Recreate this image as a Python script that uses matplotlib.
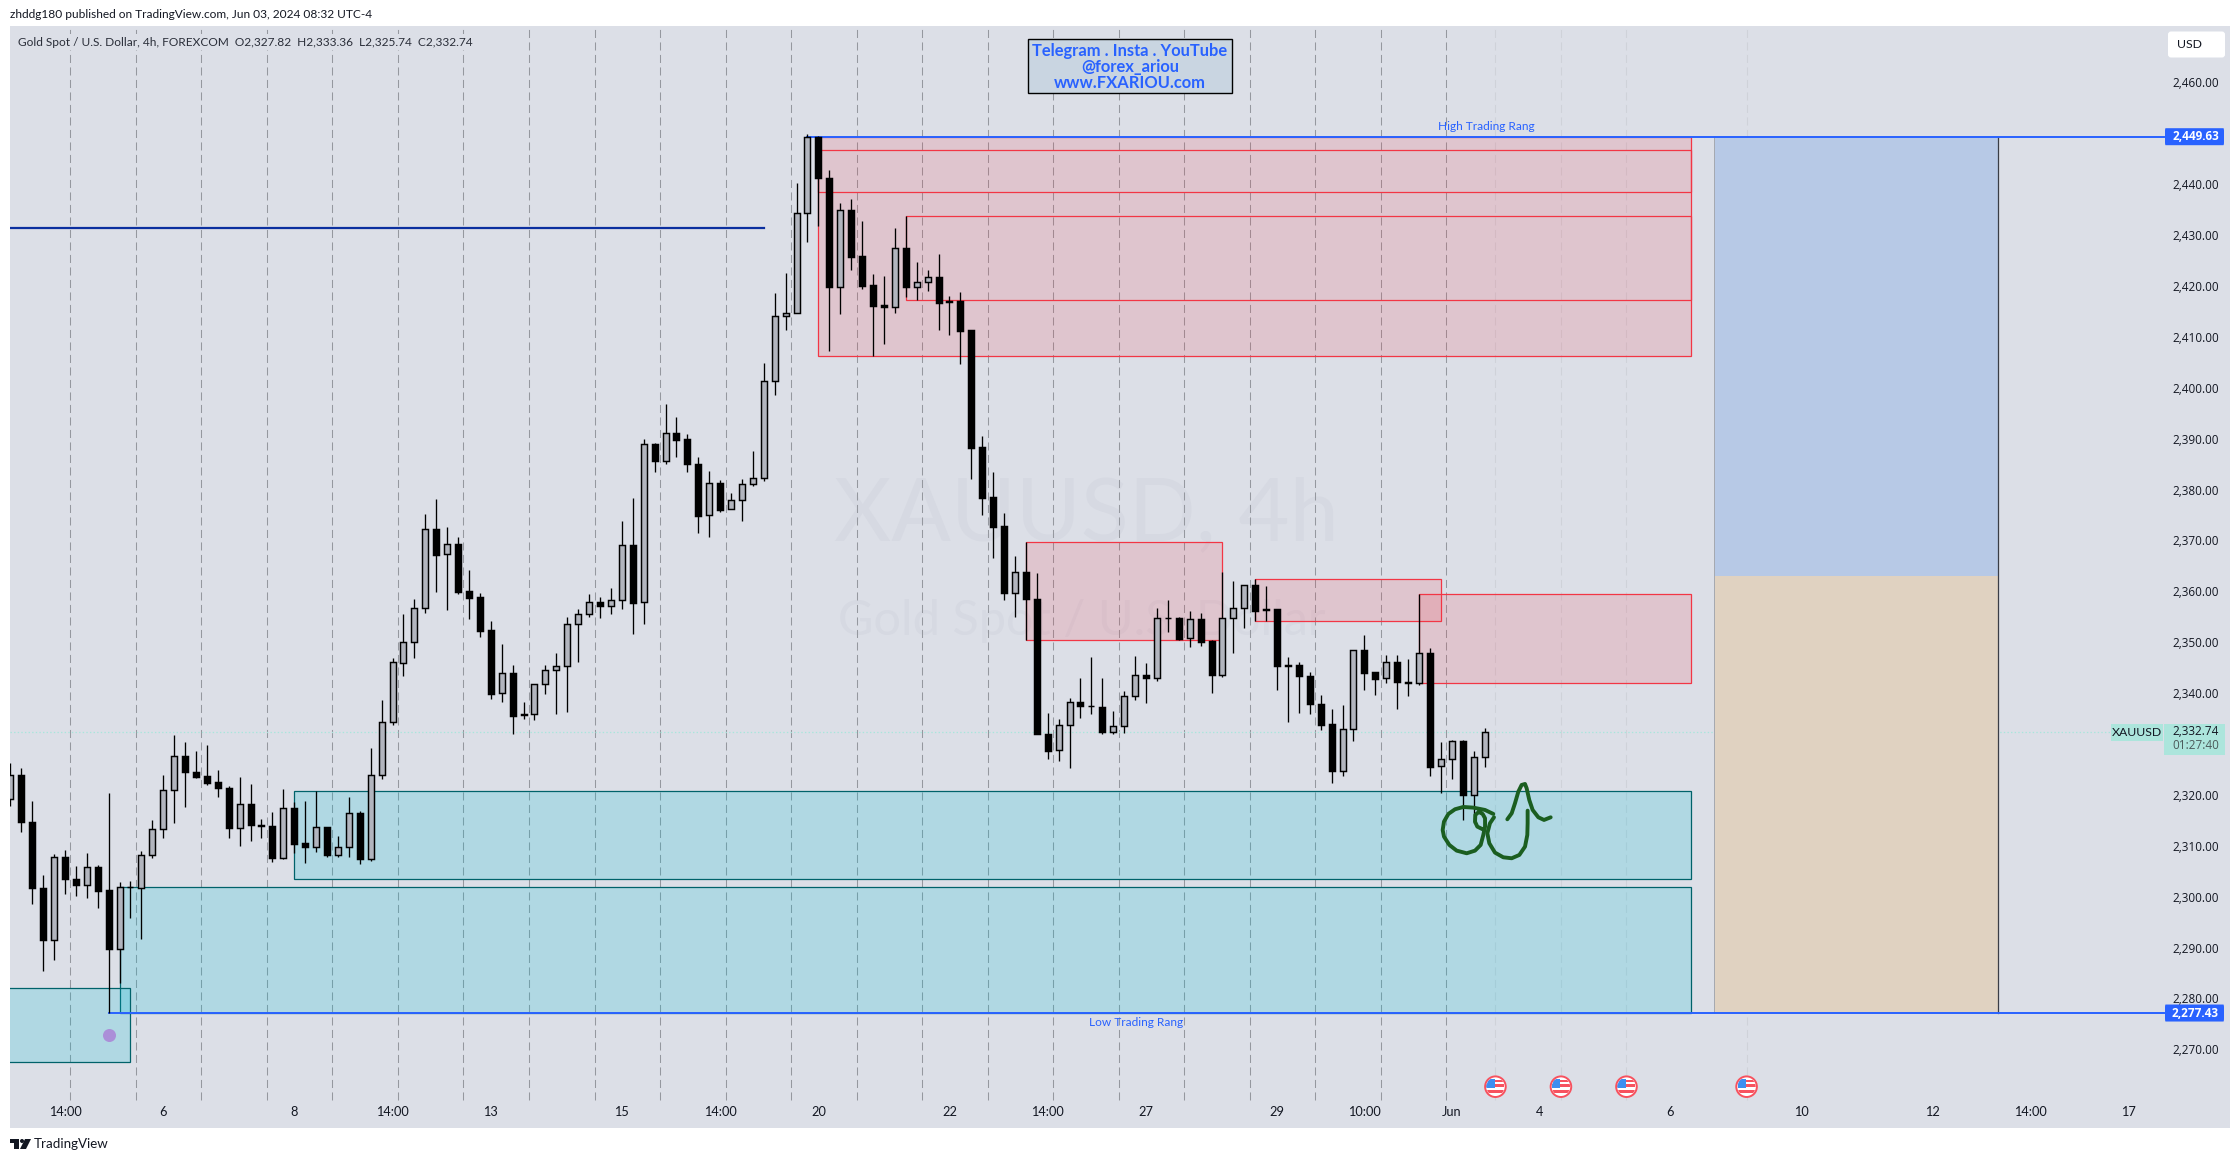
import matplotlib
matplotlib.use("Agg")
import matplotlib.pyplot as plt
from matplotlib.patches import Rectangle, FancyBboxPatch, Circle, Polygon
from matplotlib.transforms import blended_transform_factory, ScaledTranslation

plt.rcParams['font.family'] = ['Lato', 'DejaVu Sans']
plt.rcParams['lines.scale_dashes'] = False
PRICE_FONT = ['Open Sans', 'DejaVu Sans']

# ---------- data ----------
opens = [2319.4,2324.2,2314.9,2302.0,2291.8,2308.1,2303.7,2302.5,2306.1,2301.6,
2290.1,2302.1,2302.0,2308.5,2313.6,2321.2,2327.9,2324.7,2324.0,2322.8,
2321.6,2313.7,2318.5,2314.3,2314.1,2307.8,2317.7,2310.8,2310.0,2314.0,
2308.5,2310.0,2316.7,2307.7,2324.3,2334.7,2346.3,2350.3,2357.1,2372.5,
2367.6,2369.5,2360.3,2359.1,2352.6,2340.3,2344.2,2336.2,2336.1,2342.0,
2344.8,2345.7,2353.8,2355.9,2358.1,2357.5,2358.5,2369.3,2358.1,2389.2,
2386.0,2391.5,2390.2,2385.4,2375.2,2381.5,2376.4,2378.2,2381.3,2382.5,
2401.7,2414.3,2414.9,2434.6,2449.5,2441.6,2420.1,2435.3,2426.1,2420.4,
2416.5,2416.2,2427.7,2420.0,2421.0,2422.0,2417.3,2417.3,2411.6,2388.6,
2378.8,2373.1,2359.9,2364.1,2358.8,2332.2,2329.1,2334.0,2338.5,2337.8,
2337.5,2332.6,2333.8,2339.7,2343.8,2343.2,2355.1,2355.0,2351.1,2354.8,
2350.6,2343.8,2355.0,2357.0,2361.5,2356.8,2356.8,2345.9,2345.8,2343.6,
2338.1,2334.2,2325.0,2333.2,2348.7,2344.4,2343.2,2346.5,2342.4,2342.2,
2348.1,2325.9,2327.3,2330.8,2320.2,2327.82]
highs = [2326.5,2325.5,2319.1,2304.5,2308.7,2309.5,2306.3,2308.8,2306.5,2320.7,
2303.2,2303.4,2309.2,2315.3,2324.2,2332.0,2330.7,2328.9,2330.1,2325.2,
2322.0,2323.8,2322.4,2315.5,2316.9,2321.4,2318.8,2319.1,2321.0,2314.0,
2312.2,2319.9,2317.1,2329.5,2338.9,2347.2,2355.8,2358.7,2375.4,2378.4,
2373.0,2370.9,2364.4,2359.9,2354.4,2349.9,2345.9,2338.5,2342.0,2345.9,
2348.1,2355.2,2356.9,2359.7,2359.1,2360.9,2374.2,2378.7,2390.3,2389.4,
2397.2,2394.5,2391.3,2386.6,2383.9,2382.1,2379.7,2382.3,2387.8,2405.1,
2419.0,2422.8,2440.5,2450.1,2449.8,2443.0,2436.7,2437.3,2433.0,2422.6,
2422.2,2431.6,2434.0,2425.1,2423.4,2426.5,2418.4,2419.2,2411.6,2390.8,
2383.7,2375.7,2367.2,2370.0,2363.9,2336.4,2335.2,2339.3,2343.2,2347.4,
2343.2,2336.8,2340.7,2347.6,2346.2,2357.0,2358.6,2355.2,2356.4,2356.0,
2350.7,2364.1,2362.3,2361.5,2362.7,2361.3,2356.8,2347.4,2346.4,2344.4,
2339.9,2337.1,2337.9,2348.7,2351.7,2344.5,2347.7,2347.7,2346.9,2359.7,
2349.1,2330.6,2331.0,2331.0,2328.9,2333.36]
lows = [2318.2,2313.1,2298.9,2285.6,2287.8,2300.9,2300.5,2300.1,2298.0,2277.43,
2283.3,2296.2,2291.9,2307.8,2311.9,2314.7,2318.0,2323.7,2322.3,2319.8,
2311.9,2310.2,2311.3,2311.9,2307.2,2307.6,2308.8,2307.0,2309.1,2308.0,
2308.0,2308.0,2306.8,2307.4,2323.5,2334.1,2343.7,2347.2,2356.1,2360.2,
2356.7,2359.8,2354.9,2351.4,2339.2,2338.6,2332.3,2335.3,2335.1,2340.2,
2336.2,2336.6,2346.5,2355.3,2355.1,2355.9,2356.9,2352.0,2353.9,2383.8,
2385.4,2386.7,2383.8,2371.8,2371.0,2375.9,2376.4,2374.2,2381.0,2382.0,
2398.9,2411.7,2414.9,2429.0,2432.1,2407.6,2414.8,2423.5,2419.8,2406.5,
2408.8,2415.0,2418.2,2417.5,2419.3,2411.7,2410.7,2405.0,2382.4,2375.2,
2366.9,2358.5,2355.2,2350.7,2332.2,2327.3,2326.9,2325.5,2335.5,2336.1,
2332.2,2332.2,2332.4,2338.9,2338.3,2342.6,2352.4,2350.8,2349.3,2349.6,
2340.4,2343.4,2348.1,2353.0,2354.4,2354.5,2341.0,2334.7,2336.3,2336.1,
2333.0,2322.7,2324.0,2330.8,2341.0,2340.0,2342.2,2337.2,2339.8,2341.8,
2324.1,2320.7,2323.5,2315.4,2314.7,2325.74]
closes = [2324.2,2314.9,2301.9,2291.7,2308.1,2303.7,2302.5,2306.1,2301.5,2290.1,
2302.2,2302.2,2308.5,2313.6,2321.2,2327.9,2324.7,2323.9,2322.7,2321.6,
2313.7,2318.5,2314.3,2314.1,2307.8,2317.7,2310.7,2310.0,2314.0,2308.4,
2310.0,2316.7,2307.6,2324.3,2334.7,2346.4,2350.3,2357.1,2372.5,2367.5,
2369.5,2360.2,2359.0,2352.5,2340.2,2344.2,2335.8,2336.0,2342.0,2344.8,
2345.7,2353.8,2355.9,2358.1,2357.5,2358.5,2369.3,2358.0,2389.2,2385.9,
2391.5,2390.1,2385.4,2375.1,2381.5,2376.3,2378.2,2381.3,2382.5,2401.7,
2414.3,2414.9,2434.6,2449.5,2441.6,2420.1,2435.3,2426.0,2420.3,2416.4,
2416.2,2427.7,2420.0,2421.0,2422.0,2417.0,2417.1,2411.5,2388.5,2378.7,
2373.0,2359.9,2364.1,2358.7,2332.2,2329.0,2334.0,2338.5,2337.7,2337.7,
2332.6,2333.8,2339.7,2343.8,2343.2,2355.0,2355.0,2351.0,2354.8,2350.4,
2343.8,2355.0,2357.0,2361.5,2356.5,2356.6,2345.7,2345.7,2343.6,2338.1,
2334.1,2324.9,2333.2,2348.7,2344.3,2343.1,2346.5,2342.4,2342.2,2348.1,
2325.8,2327.3,2330.8,2320.2,2327.7,2332.74]

price_ticks = [2270,2280,2290,2300,2310,2320,2340,2350,2360,2370,2380,2390,
               2400,2410,2420,2430,2440,2460]
time_tick_bars = [5,14,26,35,44,56,65,74,86,95,104,116,124,132,140,152,164,176,185,194]
time_tick_labels = ['14:00','6','8','14:00','13','15','14:00','20','22','14:00','27','29',
                    '10:00','Jun','4','6','10','12','14:00','17']
past_grid_bars = [5.5,11.5,17.5,23.5,29.5,35.5,41.5,47.5,53.5,59.5,65.5,71.5,77.5,83.5,
                  89.5,95.5,101.5,107.5,113.5,119.5,125.5,131.5]
future_grid_bars = [136,142,148,159]
event_bars = [136,142,148,159]

# zones: start bar, end bar, bottom price, top price
red_fill_zones = [(74,153.9,2406.5,2449.5),(93,111,2350.7,2370.0),
                  (114,131,2354.4,2362.65),(129,153.9,2342.2,2359.7)]
red_outline_zones = [(74,153.9,2438.7,2447.1),(82,153.9,2417.5,2434.0)]
teal_zones = [(26,153.9,2303.8,2321.0),(10,153.9,2277.43,2302.2),(-3,11,2267.8,2282.3)]
range_high, range_low, range_mid = 2449.63, 2277.43, 2363.4
position_bars = (156,182)
old_level = 2431.6
old_level_end = 69
last_close = 2332.74
dot_bar, dot_price = 9, 2273.1

stroke1_bar = [135.81,135.05,133.98,133.06,132.30,131.69,131.29,131.17,131.29,131.78,132.45,133.37,
               134.13,134.65,134.89,135.05,135.05,134.83,134.47,134.16,134.13,134.34,134.83]
stroke1_price = [2316.55,2317.33,2317.79,2317.92,2317.47,2316.55,2315.04,2313.4,2312.1,2310.46,2309.34,2308.82,
                 2309.34,2310.46,2312.42,2314.06,2315.7,2316.55,2316.94,2316.35,2315.04,2314.06,2313.54]
stroke2_bar = [135.87,135.5,135.26,135.44,135.96,136.72,137.49,138.19,138.71,138.92,138.95,138.95]
stroke2_price = [2315.9,2314.72,2312.75,2310.79,2308.95,2308.03,2307.84,2308.49,2310.13,2312.42,2314.72,2317.2]
stroke3_bar = [137.09,137.49,137.79,138.1,138.4,138.71,138.86,139.1,139.41,139.93,140.45,141.06]
stroke3_price = [2315.5,2316.68,2318.64,2320.94,2322.25,2322.44,2321.59,2319.3,2317.33,2315.89,2315.37,2315.89]

# ---------- layout (pixels) ----------
W, H = 2240, 1163
L, R, T, B = 10, 2230, 26, 1128
BAR0_X, BAR_W = 10.3, 10.92
Y_REF, Y_SCALE = 136.7, 5.089
BG = '#dcdfe7'
BLUE = '#2962ff'
TEXT = '#131722'

def x2bar(px): return (px - BAR0_X) / BAR_W
def y2price(py): return range_high - (py - Y_REF) / Y_SCALE

fig = plt.figure(figsize=(W/100, H/100), dpi=100, facecolor='white')
ax = fig.add_axes([L/W, 1-B/H, (R-L)/W, (B-T)/H], facecolor=BG, zorder=1)
ax.set_xlim(x2bar(L), x2bar(R))
ax.set_ylim(y2price(B), y2price(T))
for s in ax.spines.values():
    s.set_visible(False)

ov = fig.add_axes([0, 0, 1, 1], facecolor='none', zorder=2)
ov.set_xlim(0, W); ov.set_ylim(H, 0); ov.axis('off')

# ticks
ax.yaxis.tick_right()
ax.set_yticks(price_ticks)
ax.set_yticklabels([f'{v:,.2f}' for v in price_ticks], fontsize=8.5, color=TEXT, family=PRICE_FONT)
ax.tick_params(axis='y', length=0, pad=-11*0.72)
for lab in ax.get_yticklabels():
    lab.set_ha('right')
    lab.set_transform(lab.get_transform() + ScaledTranslation(0, 1.5/100, fig.dpi_scale_trans))
ax.set_xticks(time_tick_bars)
ax.set_xticklabels(time_tick_labels, fontsize=9.2, color=TEXT)
ax.tick_params(axis='x', length=0, pad=-22*0.72)

# watermark
ax.text(1086, 516, 'XAUUSD, 4h', transform=ov.transData, fontsize=63.5, color='#d6d9e2',
        ha='center', va='center', zorder=0.5)
ax.text(1082, 621, 'Gold Spot / U.S. Dollar', transform=ov.transData, fontsize=35, color='#d6d9e2',
        ha='center', va='center', zorder=0.5)

# grid
ytop, ybot = y2price(T), y2price(1100)
ax.vlines(past_grid_bars, ybot, ytop, color='#95989f', lw=0.75, linestyles=[(0, (5.8, 3.2))], zorder=1)
ax.vlines(future_grid_bars, ybot, ytop, color='#cfd2d9', lw=0.75, linestyles=[(0, (5.8, 3.2))], zorder=1)
ax.plot([x2bar(L), x2bar(2111)], [last_close, last_close], color='#a8e6dc', lw=0.9,
        linestyle=(0, (1.0, 1.6)), zorder=1.2)

# position tool
ax.add_patch(Rectangle((position_bars[0], range_mid), position_bars[1]-position_bars[0], range_high-range_mid,
                       facecolor='#b7c9e6', edgecolor='none', zorder=1.5))
ax.add_patch(Rectangle((position_bars[0], range_low), position_bars[1]-position_bars[0], range_mid-range_low,
                       facecolor='#e0d2c1', edgecolor='none', zorder=1.5))
ax.plot([position_bars[1]]*2, [range_low, range_high], color='#3a3d46', lw=0.9, zorder=1.6)
ax.plot([position_bars[0]]*2, [range_low, range_high], color='#a5a8b0', lw=0.7, zorder=1.6)

# zones
for x0, x1, y0, y1 in red_fill_zones:
    ax.add_patch(Rectangle((x0, y0), x1-x0, y1-y0, facecolor=(242/255, 54/255, 69/255, 0.15),
                           edgecolor='#f23645', lw=0.9, zorder=2))
for x0, x1, y0, y1 in red_outline_zones:
    ax.add_patch(Rectangle((x0, y0), x1-x0, y1-y0, facecolor='none', edgecolor='#f23645', lw=0.9, zorder=2))
for x0, x1, y0, y1 in teal_zones:
    ax.add_patch(Rectangle((x0, y0), x1-x0, y1-y0, facecolor=(0, 188/255, 212/255, 0.2),
                           edgecolor='#00626a', lw=0.9, zorder=2))

# levels
ax.plot([x2bar(L), old_level_end], [old_level, old_level], color='#0b2f9f', lw=1.6, zorder=2.2)
ax.plot([73, x2bar(2164)], [range_high, range_high], color=BLUE, lw=1.4, zorder=2.2)
ax.plot([9, x2bar(2164)], [range_low, range_low], color=BLUE, lw=1.4, zorder=2.2)

# candles
bars = list(range(len(closes)))
ax.vlines(bars, lows, highs, color='black', lw=0.95, zorder=3)
for i, (o, c) in enumerate(zip(opens, closes)):
    up = c >= o
    ax.bar(i, abs(c-o), bottom=min(o, c), width=6.0/BAR_W, color='#b2b5be' if up else 'black',
           edgecolor='black', linewidth=1.05, zorder=3.1)

# purple point
ax.scatter([dot_bar], [dot_price], s=88, color='#ab8fd8', linewidths=0, zorder=3.2)

# freehand drawing
for xs, ys in [(stroke1_bar, stroke1_price), (stroke2_bar, stroke2_price), (stroke3_bar, stroke3_price)]:
    ax.plot(xs, ys, color='#1b5e20', lw=2.8, solid_capstyle='round', solid_joinstyle='round', zorder=4)

# event flags
for b in event_bars:
    cx, cy, r = BAR0_X + b*BAR_W, 1086.7, 10.3
    clip = Circle((cx, cy), r-1.2, transform=ov.transData)
    ov.add_patch(Circle((cx, cy), r, facecolor='white', edgecolor='#f7525f', lw=1.4))
    for y0, h in [(-6.5, 2.2), (-2.5, 3.0), (3.0, 3.6)]:
        p = Rectangle((cx-9, cy+y0), 18, h, facecolor='#f7525f', edgecolor='none')
        ov.add_patch(p); p.set_clip_path(clip)
    p = Rectangle((cx-9, cy-8), 8.5, 9, facecolor='#3d8ef0', edgecolor='none')
    ov.add_patch(p); p.set_clip_path(clip)

# header / legend
ov.text(10, 15, 'zhddg180 published on TradingView.com, Jun 03, 2024 08:32 UTC-4', fontsize=8.6,
        color=TEXT, ha='left', va='center')
ov.text(18, 42, 'Gold Spot / U.S. Dollar, 4h, FOREXCOM  O2,327.82  H2,333.36  L2,325.74  C2,332.74',
        fontsize=8.6, color='#2a2e39', ha='left', va='center',
        bbox=dict(facecolor=BG, edgecolor='none', pad=1.5))

# promo box
ov.add_patch(Rectangle((1027.5, 39.3), 204.8, 54, facecolor='#c9d5e1', edgecolor='black', lw=1.0))
for y, t in zip([50.7, 67.3, 83.3], ['Telegram . Insta . YouTube', '@forex_ariou', 'www.FXARIOU.com']):
    ov.text(1130, y, t, fontsize=11.9, color=BLUE, ha='center', va='center', fontweight='bold')

ov.text(1486, 126.5, 'High Trading Rang', fontsize=8.6, color=BLUE, ha='center', va='center')
ov.text(1136, 1022, 'Low Trading Rang', fontsize=8.6, color=BLUE, ha='center', va='center')

# price scale tags
trans = blended_transform_factory(ov.transData, ax.transData)
for level in (range_high, range_low):
    ax_h = 8.5 / Y_SCALE
    ov.add_patch(FancyBboxPatch((2165, level-ax_h), 59, 2*ax_h, boxstyle='round,pad=0,rounding_size=0.6',
                                transform=trans, facecolor=BLUE, edgecolor='none', mutation_aspect=1))
    ov.text(2219, level, f'{level:,.2f}', transform=trans, fontsize=8.5, color='white',
            fontweight='bold', ha='right', va='center', family=PRICE_FONT)
ov.add_patch(Rectangle((2111, 724), 51.7, 16.7, facecolor='#ace5dc', edgecolor='none'))
ov.add_patch(Rectangle((2164, 724), 60.7, 30.7, facecolor='#ace5dc', edgecolor='none'))
ov.text(2137, 732.3, 'XAUUSD', fontsize=8.8, color=TEXT, ha='center', va='center')
ov.text(2219, 731.7, f'{last_close:,.2f}', fontsize=8.5, color=TEXT, ha='right', va='center', family=PRICE_FONT)
ov.text(2219, 745.7, '01:27:40', fontsize=8.5, color='#4c5a5a', ha='right', va='center', family=PRICE_FONT)

# USD button
ov.add_patch(FancyBboxPatch((2170, 33.5), 53, 22, boxstyle='round,pad=2,rounding_size=3',
                            facecolor='white', edgecolor='none'))
ov.text(2177, 44.7, 'USD', fontsize=8.8, color=TEXT, ha='left', va='center')

# TradingView mark
ov.add_patch(Polygon([(10, 1139), (19, 1139), (19, 1149), (14, 1149), (14, 1143), (10, 1143)],
                     facecolor='#131722', edgecolor='none'))
ov.add_patch(Circle((22, 1141), 2, facecolor='#131722', edgecolor='none'))
ov.add_patch(Polygon([(25, 1139), (31, 1139), (26, 1149), (20, 1149)], facecolor='#131722', edgecolor='none'))
ov.text(34, 1144, 'TradingView', fontsize=9.6, color='#131722', ha='left', va='center')

fig.savefig('out.png', dpi=100, facecolor='white')
